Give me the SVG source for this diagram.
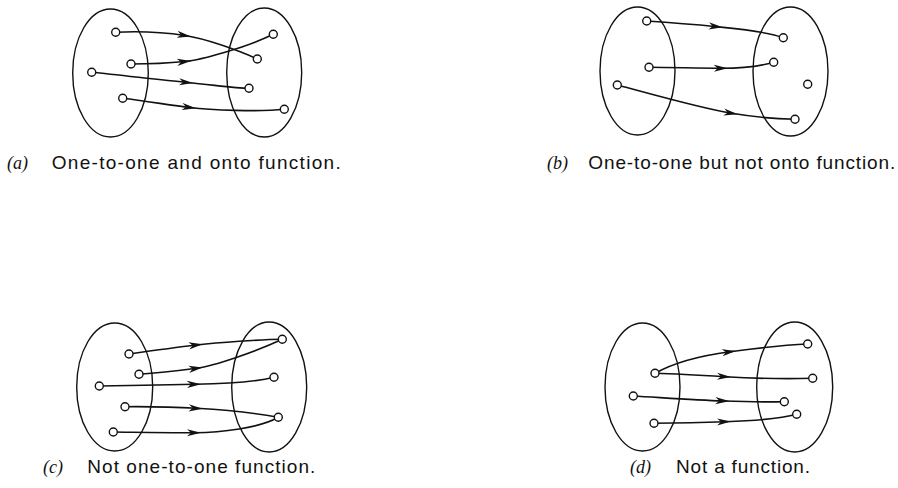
<svg xmlns="http://www.w3.org/2000/svg" width="898" height="488" viewBox="0 0 898 488">
<style>
.set{fill:none;stroke:#111;stroke-width:1.4}
.pt{fill:#fff;stroke:#111;stroke-width:1.4}
.c{fill:none;stroke:#111;stroke-width:1.6;marker-mid:url(#arr)}
.cap{font-family:"Liberation Sans",Arial,sans-serif;font-size:19px;fill:#111}
.lab{font-family:"Liberation Serif","Times New Roman",serif;font-style:italic;font-size:18px;fill:#111}
</style>
<defs>
<marker id="arr" viewBox="0 0 14 8" refX="8" refY="4" markerWidth="14" markerHeight="8" markerUnits="userSpaceOnUse" orient="auto">
<path d="M0,0.4 L14,4 L0,7.6 L4,4 z" fill="#111"/>
</marker>
</defs>
<rect width="898" height="488" fill="#fff"/>

<!-- sets -->
<g id="a-domain"><ellipse class="set" cx="110.5" cy="73" rx="37.8" ry="64"/></g>
<g id="a-codomain"><ellipse class="set" cx="264.2" cy="72.5" rx="37.5" ry="64.5"/></g>
<g id="b-domain"><ellipse class="set" cx="637.5" cy="71" rx="37.5" ry="64"/></g>
<g id="b-codomain"><ellipse class="set" cx="790.5" cy="71.5" rx="37.5" ry="64.5"/></g>
<g id="c-domain"><ellipse class="set" cx="114.7" cy="387" rx="38" ry="64"/></g>
<g id="c-codomain"><ellipse class="set" cx="269.2" cy="387" rx="37.5" ry="65"/></g>
<g id="d-domain"><ellipse class="set" cx="642.5" cy="387" rx="37.5" ry="64"/></g>
<g id="d-codomain"><ellipse class="set" cx="794.7" cy="387" rx="38" ry="65"/></g>

<g id="connectors">
<!-- (a) -->
<path class="c" d="M115.7,32.3 C140,31 165,32.5 185,35.5 S238,50 257.3,59"/>
<path class="c" d="M131,64 C150,64 170,63 185,61.5 S245,48 273.3,34.3"/>
<path class="c" d="M91.7,72.3 C120,75 160,80 187,82.5 S235,88 249,88.3"/>
<path class="c" d="M122.7,98.3 C145,101 170,105 190,107.5 S260,112 284.3,109.3"/>
<!-- (b) -->
<path class="c" d="M646.7,21 C670,22.5 695,24.5 716.7,26.7 S765,31 783.3,37.7"/>
<path class="c" d="M649,67.3 C675,67.5 700,68.3 721.7,68.3 S760,66 773.7,62.3"/>
<path class="c" d="M617.3,85 C655,95 700,108 731.7,113.3 S780,119 795,119.3"/>
<!-- (c) -->
<path class="c" d="M129,354 C150,351 175,347.5 196.7,345 S260,339.5 282.3,339.3"/>
<path class="c" d="M139,374.3 C160,373 180,370.5 196.7,368.3 S255,352 282.3,339.3"/>
<path class="c" d="M99.3,386 C130,385.5 165,384.8 195,384.3 S255,382 274,377.3"/>
<path class="c" d="M125,406.7 C150,406.5 175,407 196.7,408.3 S255,413 278.3,417.3"/>
<path class="c" d="M113.3,432 C140,432.3 170,432.8 195,432.7 S260,428 278.3,417.3"/>
<!-- (d) -->
<path class="c" d="M655,373.3 C675,362 705,355 730,351.7 S785,345 807.7,344"/>
<path class="c" d="M655,373.3 C680,374 705,375.5 725,376.7 S785,379 812.7,378.3"/>
<path class="c" d="M633.3,396 C660,397.5 695,400 723.3,401 S770,402 784.3,401.7"/>
<path class="c" d="M654,423.3 C675,423 700,422.5 725,421.7 S780,419 796.7,414.3"/>
</g>

<!-- points (a) -->
<g id="a-x1"><circle class="pt" cx="115.7" cy="32.3" r="4"/></g>
<g id="a-x2"><circle class="pt" cx="131" cy="64" r="4"/></g>
<g id="a-x3"><circle class="pt" cx="91.7" cy="72.3" r="4"/></g>
<g id="a-x4"><circle class="pt" cx="122.7" cy="98.3" r="4"/></g>
<g id="a-y1"><circle class="pt" cx="273.3" cy="34.3" r="4"/></g>
<g id="a-y2"><circle class="pt" cx="257.3" cy="59" r="4"/></g>
<g id="a-y3"><circle class="pt" cx="249" cy="88.3" r="4"/></g>
<g id="a-y4"><circle class="pt" cx="284.3" cy="109.3" r="4"/></g>
<!-- points (b) -->
<g id="b-x1"><circle class="pt" cx="646.7" cy="21" r="4"/></g>
<g id="b-x2"><circle class="pt" cx="649" cy="67.3" r="4"/></g>
<g id="b-x3"><circle class="pt" cx="617.3" cy="85" r="4"/></g>
<g id="b-y1"><circle class="pt" cx="783.3" cy="37.7" r="4"/></g>
<g id="b-y2"><circle class="pt" cx="773.7" cy="62.3" r="4"/></g>
<g id="b-y3"><circle class="pt" cx="807.7" cy="84.3" r="4"/></g>
<g id="b-y4"><circle class="pt" cx="795" cy="119.3" r="4"/></g>
<!-- points (c) -->
<g id="c-x1"><circle class="pt" cx="129" cy="354" r="4"/></g>
<g id="c-x2"><circle class="pt" cx="139" cy="374.3" r="4"/></g>
<g id="c-x3"><circle class="pt" cx="99.3" cy="386" r="4"/></g>
<g id="c-x4"><circle class="pt" cx="125" cy="406.7" r="4"/></g>
<g id="c-x5"><circle class="pt" cx="113.3" cy="432" r="4"/></g>
<g id="c-y1"><circle class="pt" cx="282.3" cy="339.3" r="4"/></g>
<g id="c-y2"><circle class="pt" cx="274" cy="377.3" r="4"/></g>
<g id="c-y3"><circle class="pt" cx="278.3" cy="417.3" r="4"/></g>
<!-- points (d) -->
<g id="d-x1"><circle class="pt" cx="655" cy="373.3" r="4"/></g>
<g id="d-x2"><circle class="pt" cx="633.3" cy="396" r="4"/></g>
<g id="d-x3"><circle class="pt" cx="654" cy="423.3" r="4"/></g>
<g id="d-y1"><circle class="pt" cx="807.7" cy="344" r="4"/></g>
<g id="d-y2"><circle class="pt" cx="812.7" cy="378.3" r="4"/></g>
<g id="d-y3"><circle class="pt" cx="784.3" cy="401.7" r="4"/></g>
<g id="d-y4"><circle class="pt" cx="796.7" cy="414.3" r="4"/></g>

<!-- captions -->
<g id="caption-a">
<text class="lab" x="7" y="168.5">(a)</text>
<text class="cap" x="51.7" y="168.5" textLength="289" lengthAdjust="spacing">One-to-one and onto function.</text>
</g>
<g id="caption-b">
<text class="lab" x="547" y="168.5">(b)</text>
<text class="cap" x="588.3" y="168.5" textLength="307" lengthAdjust="spacing">One-to-one but not onto function.</text>
</g>
<g id="caption-c">
<text class="lab" x="43" y="473">(c)</text>
<text class="cap" x="87.3" y="473" textLength="228" lengthAdjust="spacing">Not one-to-one function.</text>
</g>
<g id="caption-d">
<text class="lab" x="630" y="473">(d)</text>
<text class="cap" x="676" y="473" textLength="134" lengthAdjust="spacing">Not a function.</text>
</g>
</svg>
